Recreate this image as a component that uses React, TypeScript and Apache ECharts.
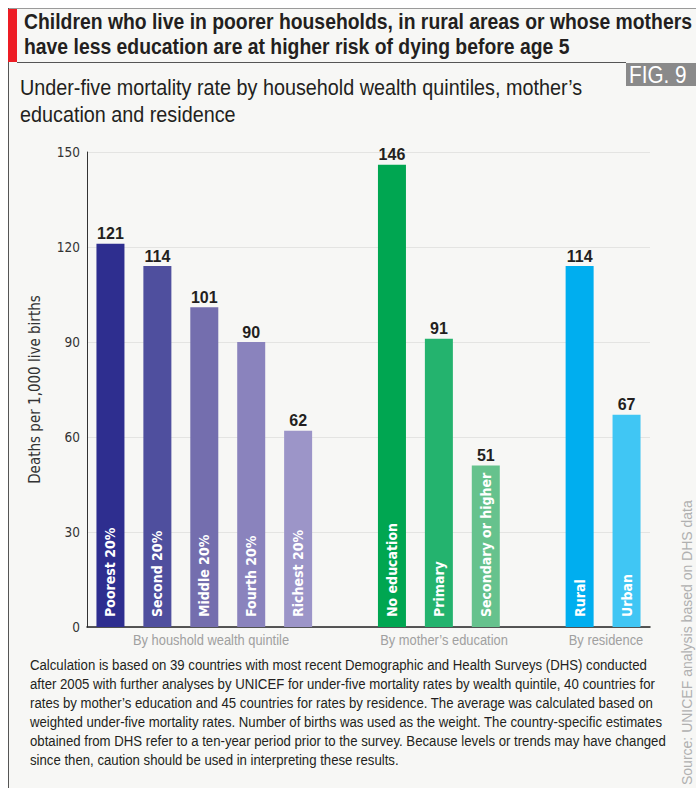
import React, { useEffect, useRef } from "react";
import * as echarts from "echarts";

const categories = [
  "Poorest 20%", "Second 20%", "Middle 20%", "Fourth 20%", "Richest 20%", "",
  "No education", "Primary", "Secondary or higher", "",
  "Rural", "Urban",
];
const values: (number | null)[] = [121, 114, 101, 90, 62, null, 146, 91, 51, null, 114, 67];
const barColors = [
  "#2e2e8f", "#4f4f9e", "#746eae", "#8a83bd", "#9c95c8", "",
  "#00a651", "#24b36e", "#66c28d", "",
  "#00aeef", "#40c6f4",
];
const yMin = 0;
const yMax = 150;
const yInterval = 30;
const yAxisName = "Deaths per 1,000 live births";
const groupLabels = ["By houshold wealth quintile", "By mother\u2019s education", "By residence"];
const titleLines = [
  "Children who live in poorer households, in rural areas or whose mothers",
  "have less education are at higher risk of dying before age 5",
];
const subtitleLines = [
  "Under-five mortality rate by household wealth quintiles, mother\u2019s",
  "education and residence",
];
const footnoteLines = [
  "Calculation is based on 39 countries with most recent Demographic and Health Surveys (DHS) conducted",
  "after 2005 with further analyses by UNICEF for under-five mortality rates by wealth quintile, 40 countries for",
  "rates by mother\u2019s education and 45 countries for rates by residence. The average was calculated based on",
  "weighted under-five mortality rates. Number of births was used as the weight. The country-specific estimates",
  "obtained from DHS refer to a ten-year period prior to the survey. Because levels or trends may have changed",
  "since then, caution should be used in interpreting these results.",
];
const sourceText = "Source: UNICEF analysis based on DHS data";
const figLabel = "FIG. 9";

const COND = '"DejaVu Sans Condensed", "Liberation Sans", sans-serif';
const SANS = '"Liberation Sans", Arial, sans-serif';

export default function App() {
  const ref = useRef<HTMLDivElement>(null);
  useEffect(() => {
    if (!ref.current) return;
    const chart = echarts.init(ref.current, null, { renderer: "svg" });
    const option: any = {
      animation: false,
      backgroundColor: "#ffffff",
      grid: { left: 87, right: 46, top: 152, bottom: 161 },
      xAxis: {
        type: "category",
        data: categories,
        axisLine: { lineStyle: { color: "#222", width: 1.5 } },
        axisTick: { show: false },
        axisLabel: { show: false },
      },
      yAxis: {
        type: "value",
        min: yMin,
        max: yMax,
        interval: yInterval,
        name: yAxisName,
        nameLocation: "middle",
        nameGap: 45,
        nameTextStyle: { fontFamily: COND, fontSize: 15, color: "#333" },
        axisLine: { show: true, lineStyle: { color: "#333", width: 1 } },
        axisTick: { show: false },
        axisLabel: { fontFamily: COND, fontSize: 13.5, color: "#333", margin: 7 },
        splitLine: { lineStyle: { color: "#e4e4e2", width: 1 } },
      },
      series: [
        {
          type: "bar",
          barWidth: 28,
          data: values.map((v, i) =>
            v == null ? "-" : { value: v, itemStyle: { color: barColors[i] } }
          ),
          label: {
            show: true,
            position: "top",
            distance: 2,
            fontFamily: SANS,
            fontWeight: "bold",
            fontSize: 16,
            color: "#231f20",
          },
          z: 2,
        },
        {
          type: "bar",
          barWidth: 28,
          barGap: "-100%",
          silent: true,
          data: values.map((v) => (v == null ? "-" : v)),
          itemStyle: { color: "rgba(0,0,0,0)" },
          label: {
            show: true,
            position: "insideBottom",
            rotate: 90,
            align: "left",
            verticalAlign: "middle",
            distance: 10,
            formatter: (p: any) => categories[p.dataIndex],
            fontFamily: COND,
            fontWeight: "bold",
            fontSize: 14,
            color: "#ffffff",
          },
          z: 3,
        },
      ],
      graphic: [
        { type: "rect", z: -10, shape: { x: 8, y: 8, width: 688, height: 780 }, style: { fill: "#f7f7f5" } },
        { type: "line", shape: { x1: 8, y1: 8.5, x2: 696, y2: 8.5 }, style: { stroke: "#9a9a9a", lineWidth: 1 } },
        { type: "line", shape: { x1: 8.5, y1: 8, x2: 8.5, y2: 788 }, style: { stroke: "#555", lineWidth: 1 } },
        { type: "rect", shape: { x: 8, y: 9, width: 9, height: 53 }, style: { fill: "#ed1c24" } },
        { type: "line", shape: { x1: 17, y1: 62.5, x2: 626, y2: 62.5 }, style: { stroke: "#555", lineWidth: 1 } },
        {
          type: "text",
          x: 24,
          y: 9,
          scaleX: 0.88,
          style: {
            text: titleLines.join("\n"),
            fontFamily: SANS,
            fontWeight: "bold",
            fontSize: 22,
            lineHeight: 25,
            fill: "#231f20",
          },
        },
        {
          type: "text",
          x: 20,
          y: 74,
          scaleX: 0.9,
          style: {
            text: subtitleLines.join("\n"),
            fontFamily: SANS,
            fontSize: 22,
            lineHeight: 27,
            fill: "#231f20",
          },
        },
        { type: "rect", shape: { x: 626, y: 63, width: 70, height: 23 }, style: { fill: "#8a8a8a" } },
        {
          type: "text",
          x: 629,
          y: 75,
          scaleX: 0.9,
          style: {
            text: figLabel,
            fontFamily: SANS,
            fontSize: 23,
            fill: "#ffffff",
            verticalAlign: "middle",
          },
        },
        ...groupLabels.map((t, i) => ({
          type: "text",
          x: [211, 444, 606][i],
          y: 640,
          scaleX: 0.86,
          style: {
            text: t,
            fontFamily: SANS,
            fontSize: 15,
            fill: "#a0a0a0",
            align: "center",
            verticalAlign: "middle",
          },
        })),
        {
          type: "text",
          x: 30,
          y: 655,
          scaleX: 0.88,
          style: {
            text: footnoteLines.join("\n"),
            fontFamily: SANS,
            fontSize: 15,
            lineHeight: 19,
            fill: "#231f20",
          },
        },
        {
          type: "text",
          x: 687,
          y: 785,
          rotation: Math.PI / 2,
          style: {
            text: sourceText,
            fontFamily: SANS,
            fontSize: 14,
            fill: "#b0b0b0",
            align: "left",
            verticalAlign: "middle",
          },
        },
      ],
    };
    chart.setOption(option);
    return () => chart.dispose();
  }, []);
  return (
    <div
      ref={ref}
      style={{ position: "fixed", left: 0, top: 0, width: 696, height: 788 }}
    />
  );
}
